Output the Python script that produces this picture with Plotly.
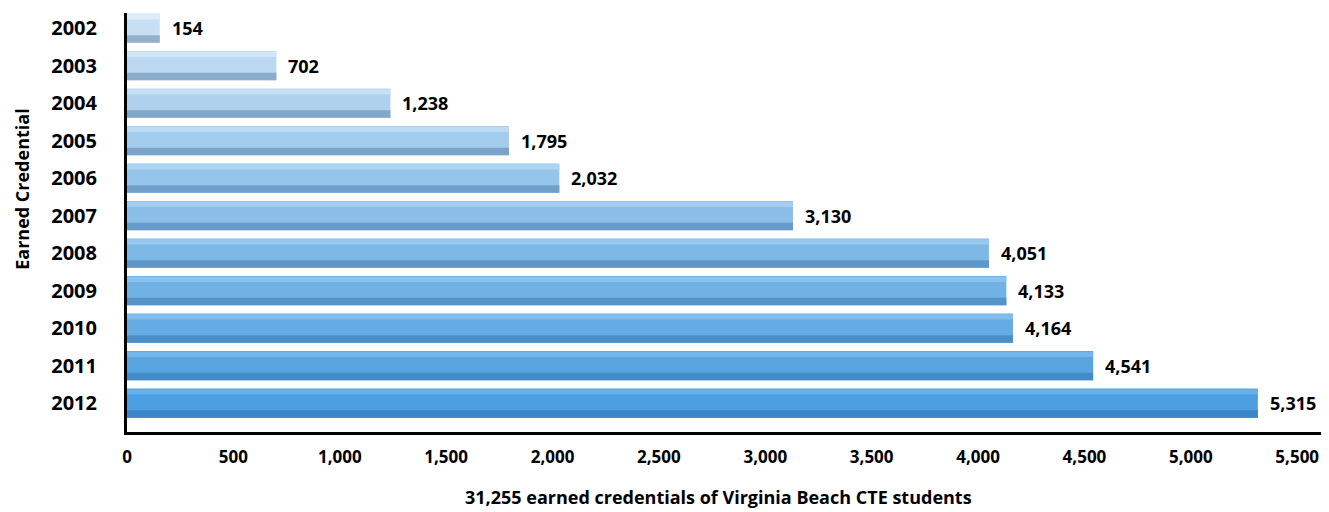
import plotly.graph_objects as go

years = ["2002", "2003", "2004", "2005", "2006", "2007", "2008", "2009", "2010", "2011", "2012"]
credentials = [154, 702, 1238, 1795, 2032, 3130, 4051, 4133, 4164, 4541, 5315]
x_ticks = [0, 500, 1000, 1500, 2000, 2500, 3000, 3500, 4000, 4500, 5000, 5500]
x_title = "31,255 earned credentials of Virginia Beach CTE students"
y_title = "Earned Credential"


def lerp(c1, c2, t):
    return "rgb(%d,%d,%d)" % tuple(round(a + (b - a) * t) for a, b in zip(c1, c2))


n = len(years)
top_c, bot_c = (200, 222, 242), (76, 159, 224)
top_d, bot_d = (148, 176, 202), (58, 134, 200)
top_h, bot_h = (222, 236, 249), (104, 176, 234)
main_colors = [lerp(top_c, bot_c, i / (n - 1)) for i in range(n)]
dark_colors = [lerp(top_d, bot_d, i / (n - 1)) for i in range(n)]
light_colors = [lerp(top_h, bot_h, i / (n - 1)) for i in range(n)]

fig = go.Figure()
fig.add_trace(go.Bar(y=years, x=credentials, orientation="h", width=0.78, offset=-0.39,
                     marker=dict(color=main_colors, line=dict(width=0)), hoverinfo="x+y"))
fig.add_trace(go.Bar(y=years, x=credentials, orientation="h", width=0.2, offset=0.19,
                     marker=dict(color=dark_colors, line=dict(width=0)), hoverinfo="skip"))
fig.add_trace(go.Bar(y=years, x=credentials, orientation="h", width=0.14, offset=-0.37,
                     marker=dict(color=light_colors, line=dict(width=0)), hoverinfo="skip"))

font_fam = "Open Sans"
for i, v in enumerate(credentials):
    fig.add_annotation(x=v, y=i, text=f"{v:,}", showarrow=False, xanchor="left", yanchor="middle",
                       xshift=10, font=dict(family=font_fam, size=18, color="black", weight="bold"))

# page body has an 8px margin, so layout is offset accordingly
fig.add_annotation(xref="paper", yref="paper", x=-0.0875, y=0.578, text=y_title, textangle=-90,
                   xanchor="center", yanchor="middle", showarrow=False,
                   font=dict(family=font_fam, size=18, color="black", weight="bold"))
fig.add_annotation(xref="paper", yref="paper", x=0.4925, y=-0.155, text=x_title,
                   xanchor="center", yanchor="middle", showarrow=False,
                   font=dict(family=font_fam, size=18, color="black", weight="bold"))

fig.update_layout(
    width=1321, height=504,
    margin=dict(l=119, r=2, t=5, b=80),
    paper_bgcolor="white", plot_bgcolor="white",
    barmode="overlay", showlegend=False,
    xaxis=dict(range=[0, 5640], tickvals=x_ticks, ticktext=[f"{t:,}" for t in x_ticks],
               showgrid=False, zeroline=False, showline=True, linecolor="black", linewidth=3,
               ticks="", ticklabelstandoff=8,
               tickfont=dict(family=font_fam, size=17, color="black", weight="bold")),
    yaxis=dict(type="category", categoryorder="array", categoryarray=years,
               range=[10.77, -0.4], showgrid=False, zeroline=False, showline=True,
               linecolor="black", linewidth=3, ticks="", ticklabelstandoff=23,
               tickfont=dict(family=font_fam, size=20, color="black", weight="bold")),
)

fig.write_html("out.html")
